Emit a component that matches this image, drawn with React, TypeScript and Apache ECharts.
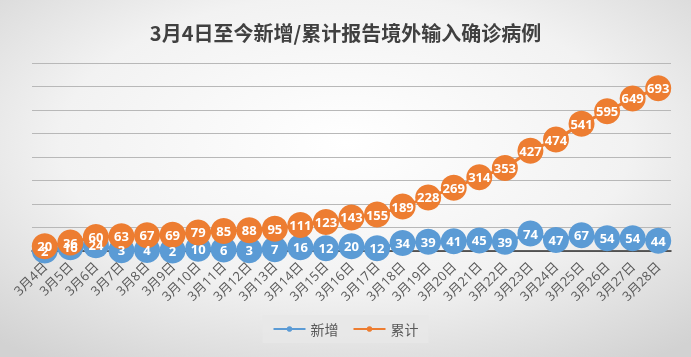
import React, { useEffect, useRef } from "react";
import * as echarts from "echarts";

const categories = [
  "3月4日", "3月5日", "3月6日", "3月7日", "3月8日", "3月9日", "3月10日", "3月11日", "3月12日",
  "3月13日", "3月14日", "3月15日", "3月16日", "3月17日", "3月18日", "3月19日", "3月20日",
  "3月21日", "3月22日", "3月23日", "3月24日", "3月25日", "3月26日", "3月27日", "3月28日",
];
const newCases = [2, 16, 24, 3, 4, 2, 10, 6, 3, 7, 16, 12, 20, 12, 34, 39, 41, 45, 39, 74, 47, 67, 54, 54, 44];
const totalCases = [20, 36, 60, 63, 67, 69, 79, 85, 88, 95, 111, 123, 143, 155, 189, 228, 269, 314, 353, 427, 474, 541, 595, 649, 693];

export default function App() {
  const ref = useRef<HTMLDivElement>(null);
  useEffect(() => {
    if (!ref.current) return;
    const chart = echarts.init(ref.current, null, { renderer: "svg" });
    const label = {
      show: true,
      position: "inside",
      color: "#ffffff",
      fontSize: 13,
      fontWeight: "bold",
      fontFamily: "Open Sans, Noto Sans, sans-serif",
    };
    chart.setOption({
      animation: false,
      backgroundColor: {
        type: "radial",
        x: 0.5,
        y: 0.4,
        r: 0.75,
        colorStops: [
          { offset: 0, color: "#ffffff" },
          { offset: 0.55, color: "#f2f2f2" },
          { offset: 1, color: "#d2d2d2" },
        ],
      },
      title: {
        text: "3月4日至今新增/累计报告境外输入确诊病例",
        left: "center",
        top: 17,
        textStyle: {
          fontSize: 20,
          fontWeight: "bold",
          color: "#404040",
          fontFamily: "Noto Sans CJK SC, sans-serif",
        },
      },
      legend: {
        bottom: 14,
        left: "center",
        itemWidth: 32,
        itemHeight: 7,
        itemGap: 14,
        padding: [7, 10],
        backgroundColor: "rgba(232,232,232,0.85)",
        textStyle: { color: "#595959", fontSize: 14, fontFamily: "Noto Sans CJK SC, sans-serif" },
        data: ["新增", "累计"],
      },
      grid: { left: 32, right: 20, top: 63, bottom: 106, containLabel: false },
      xAxis: {
        type: "category",
        data: categories,
        boundaryGap: true,
        axisLine: { lineStyle: { color: "#303030", width: 1.5 } },
        axisTick: { show: false },
        axisLabel: {
          rotate: 45,
          interval: 0,
          color: "#595959",
          fontSize: 13,
          margin: 13,
          fontFamily: "Open Sans, Noto Sans CJK SC, sans-serif",
        },
      },
      yAxis: {
        type: "value",
        min: 0,
        max: 800,
        interval: 100,
        axisLabel: { show: false },
        axisLine: { show: false },
        axisTick: { show: false },
        splitLine: { lineStyle: { color: "#b8b8b8", width: 1.2 } },
      },
      series: [
        {
          name: "新增",
          type: "line",
          data: newCases,
          symbol: "circle",
          symbolSize: 26,
          itemStyle: { color: "#5b9bd5" },
          lineStyle: { color: "#5b9bd5", width: 3 },
          label,
        },
        {
          name: "累计",
          type: "line",
          data: totalCases,
          symbol: "circle",
          symbolSize: 26,
          itemStyle: { color: "#ed7d31" },
          lineStyle: { color: "#ed7d31", width: 3 },
          label,
        },
      ],
    });
    return () => chart.dispose();
  }, []);
  return (
    <div
      ref={ref}
      style={{ position: "fixed", left: 0, top: 0, width: 691, height: 357 }}
    />
  );
}
